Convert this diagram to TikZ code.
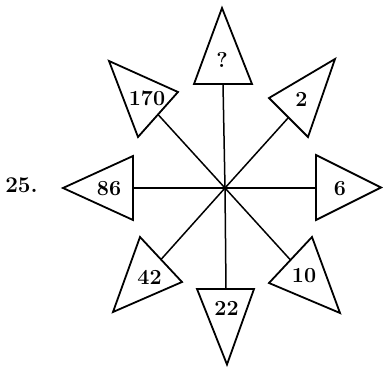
\documentclass[tikz,border=0pt]{standalone}
\begin{document}
\begin{tikzpicture}[x=1pt,y=-1pt,
  tri/.style={draw=black,line width=1.8pt,line join=miter},
  spoke/.style={draw=black,line width=1.5pt},
  num/.style={font=\fontsize{21.5}{21.5}\selectfont\bfseries,inner sep=0pt},
  lbl/.style={font=\fontsize{22.5}{22.5}\selectfont\bfseries,inner sep=0pt}]
\useasboundingbox (0,0) rectangle (383,367);
\fill[white] (0,0) rectangle (383,367);
\coordinate (c) at (225,188);
% base midpoints
\coordinate (bt) at (223,84);
\coordinate (br) at (316,188);
\coordinate (bl) at (133,188);
\coordinate (bb) at (226,289);
\coordinate (bul) at (158,114.5);
\coordinate (bur) at (288.5,117.5);
\coordinate (bll) at (161,259.5);
\coordinate (blr) at (290.5,260);
% spokes
\foreach \b in {bt,br,bl,bb,bul,bur,bll,blr} \draw[spoke] (c) -- (\b);
% triangles
\draw[tri] (222,8) -- (252,84) -- (194,84) -- cycle;
\draw[tri] (381,187.5) -- (316,220) -- (316,155) -- cycle;
\draw[tri] (63,188) -- (133,156) -- (133,220) -- cycle;
\draw[tri] (227,364.5) -- (197,289) -- (254,289) -- cycle;
\draw[tri] (109,61) -- (178,92) -- (138,137) -- cycle;
\draw[tri] (335,59) -- (308,137) -- (269,98) -- cycle;
\draw[tri] (113,312) -- (140,237) -- (182,282) -- cycle;
\draw[tri] (340,313) -- (269,283) -- (312,237) -- cycle;
% labels
\node[num] (tq) at (222,60) {?};
\node[num] (t6) at (340,188.5) {6};
\node[num] (t86) at (109,188.5) {86};
\node[num] (t22) at (226.5,308.5) {22};
\node[num] (t170) at (147,98) {170};
\node[num] (t2) at (301.5,99) {2};
\node[num] (t42) at (149.5,277.5) {42};
\node[num] (t10) at (304,276) {10};
\node[lbl] (q) at (21.5,185) {25.};
\end{tikzpicture}
\end{document}
